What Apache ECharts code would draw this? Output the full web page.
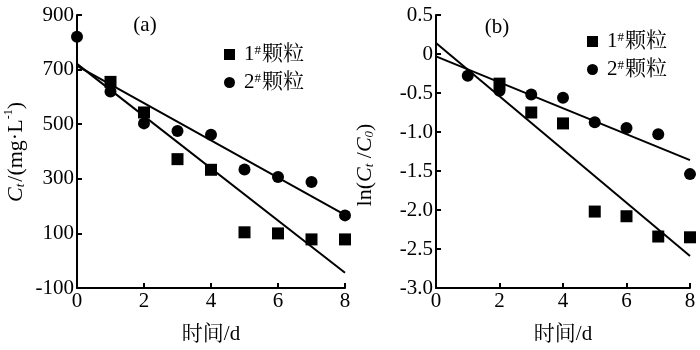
<!DOCTYPE html>
<html>
<head>
<meta charset="utf-8">
<script src="https://cdn.jsdelivr.net/npm/echarts@6/dist/echarts.min.js"></script>
<style>
html,body{margin:0;padding:0;background:#fff;}
#chart{width:700px;height:350px;}
</style>
</head>
<body>
<div id="chart"></div>
<script>
// ---- data ----
const seriesNames = ['1#颗粒', '2#颗粒'];
// panel (a): concentration C_t (mg/L)
const aSquareX = [1, 2, 3, 4, 5, 6, 7, 8];
const aSquareY = [655, 543, 372, 333, 104, 100, 78, 78];
const aCircleX = [0, 1, 2, 3, 4, 5, 6, 7, 8];
const aCircleY = [820, 620, 503, 475, 461, 334, 307, 288, 166];
const aFitX = [0, 8];
const aFit1 = [721, -44];
const aFit2 = [714, 168];
// panel (b): ln(Ct/C0)
const bSquareX = [2, 3, 4, 5, 6, 7, 8];
const bSquareY = [-0.38, -0.75, -0.89, -2.02, -2.08, -2.34, -2.35];
const bCircleX = [1, 2, 3, 4, 5, 6, 7, 8];
const bCircleY = [-0.28, -0.47, -0.52, -0.56, -0.875, -0.95, -1.03, -1.54];
const bFitX = [0, 8];
const bFit1 = [0.14, -2.59];
const bFit2 = [-0.03, -1.36];
// axis ticks
const xTicks = [0, 2, 4, 6, 8];
const aYTicks = [-100, 100, 300, 500, 700, 900];
const bYTicks = [-3.0, -2.5, -2.0, -1.5, -1.0, -0.5, 0, 0.5];

const FONT = "'Liberation Serif', 'Times New Roman', 'Noto Serif CJK SC', 'Noto Sans CJK SC', serif";
const zip = (xs, ys) => xs.map((x, i) => [x, ys[i]]);

const axisLine = {show: true, onZero: false, lineStyle: {color: '#000', width: 2}};
const axisTick = {show: true, inside: true, length: 5, lineStyle: {color: '#000', width: 2}};
const labelStyle = {color: '#000', fontFamily: FONT, fontSize: 21};

function xAxis(gridIndex) {
  return {
    type: 'value', gridIndex, min: xTicks[0], max: xTicks[xTicks.length - 1],
    interval: xTicks[1] - xTicks[0],
    axisLine, axisTick, splitLine: {show: false},
    axisLabel: Object.assign({margin: 3}, labelStyle),
    name: '时间/d', nameLocation: 'middle', nameGap: 36,
    nameTextStyle: {color: '#000', fontFamily: FONT, fontSize: 21}
  };
}
function yAxis(gridIndex, ticks, fmt) {
  return {
    type: 'value', gridIndex, min: ticks[0], max: ticks[ticks.length - 1],
    interval: ticks[1] - ticks[0],
    axisLine, axisTick, splitLine: {show: false},
    axisLabel: Object.assign({margin: 3, formatter: fmt}, labelStyle)
  };
}

const legendFmt = name => name.replace('#', '{sup|#}');
function legend(left, top) {
  return {
    orient: 'vertical', left, top, padding: 0, itemWidth: 11, itemHeight: 11, itemGap: 7,
    data: [{name: seriesNames[0], icon: 'rect'}, {name: seriesNames[1], icon: 'circle'}],
    formatter: legendFmt,
    selectedMode: false,
    itemStyle: {opacity: 1},
    textStyle: {color: '#000', fontFamily: FONT, fontSize: 21, lineHeight: 21, padding: [0, 0, 0, 4],
      rich: {sup: {fontSize: 13, verticalAlign: 'top', lineHeight: 21, fontFamily: FONT, color: '#000', padding: [0, 1, 6, 0]}}}
  };
}

function scatter(name, xi, data, symbol) {
  return {type: 'scatter', name, xAxisIndex: xi, yAxisIndex: xi, data, symbol,
    symbolSize: 12, itemStyle: {color: '#000', opacity: 1}, clip: false, z: 3};
}
function fit(xi, data) {
  return {type: 'line', name: 'fit' + xi, xAxisIndex: xi, yAxisIndex: xi, data, symbol: 'none',
    lineStyle: {color: '#000', width: 2}, silent: true, z: 2};
}

const chart = echarts.init(document.getElementById('chart'), null, {renderer: 'canvas'});
chart.setOption({
  backgroundColor: '#fff',
  animation: false,
  grid: [
    {left: 77, top: 15, width: 268, height: 274, containLabel: false},
    {left: 436, top: 15, width: 254, height: 275, containLabel: false}
  ],
  xAxis: [xAxis(0), xAxis(1)],
  yAxis: [
    yAxis(0, aYTicks, v => String(v)),
    yAxis(1, bYTicks, v => (v === 0 ? '0' : v.toFixed(1)))
  ],
  legend: [legend(224, 44), legend(587, 31)],
  graphic: [
    {type: 'text', x: 145, y: 25, style: {text: '(a)', font: '21px ' + FONT, fill: '#000', align: 'center', verticalAlign: 'middle'}},
    {type: 'text', x: 497, y: 27, style: {text: '(b)', font: '21px ' + FONT, fill: '#000', align: 'center', verticalAlign: 'middle'}},
    {type: 'text', x: 15, y: 152, rotation: Math.PI / 2,
      style: {
        text: '{it|C}{sub|t}{n|/(mg·L}{sup|-1}{n|)}',
        align: 'center', verticalAlign: 'middle', fill: '#000',
        rich: {
          it: {fontFamily: FONT, fontSize: 22, fontStyle: 'italic', lineHeight: 24, verticalAlign: 'bottom'},
          sub: {fontFamily: FONT, fontSize: 13, fontStyle: 'italic', lineHeight: 24, verticalAlign: 'bottom', padding: [0, 2, 0, 0]},
          n: {fontFamily: FONT, fontSize: 22, lineHeight: 24, verticalAlign: 'bottom'},
          sup: {fontFamily: FONT, fontSize: 12, lineHeight: 24, verticalAlign: 'top'}
        }
      }},
    {type: 'text', x: 364, y: 165, rotation: Math.PI / 2,
      style: {
        text: '{n|ln(}{it|C}{sub|t}{n| /}{it|C}{sub|0}{n|)}',
        align: 'center', verticalAlign: 'middle', fill: '#000',
        rich: {
          it: {fontFamily: FONT, fontSize: 22, fontStyle: 'italic', lineHeight: 24, verticalAlign: 'bottom'},
          sub: {fontFamily: FONT, fontSize: 13, fontStyle: 'italic', lineHeight: 24, verticalAlign: 'bottom'},
          n: {fontFamily: FONT, fontSize: 22, lineHeight: 24, verticalAlign: 'bottom'}
        }
      }}
  ],
  series: [
    fit(0, zip(aFitX, aFit1)),
    fit(0, zip(aFitX, aFit2)),
    scatter(seriesNames[0], 0, zip(aSquareX, aSquareY), 'rect'),
    scatter(seriesNames[1], 0, zip(aCircleX, aCircleY), 'circle'),
    fit(1, zip(bFitX, bFit1)),
    fit(1, zip(bFitX, bFit2)),
    scatter(seriesNames[0], 1, zip(bSquareX, bSquareY), 'rect'),
    scatter(seriesNames[1], 1, zip(bCircleX, bCircleY), 'circle')
  ]
});
</script>
</body>
</html>
